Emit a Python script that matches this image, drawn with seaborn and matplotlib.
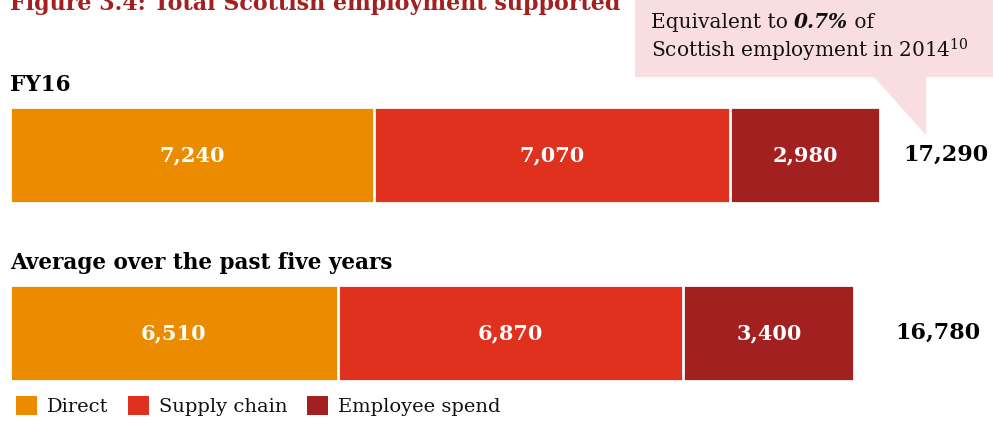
import matplotlib
matplotlib.use("Agg")
import matplotlib.pyplot as plt
from matplotlib.patches import Rectangle, Polygon, Patch
import seaborn as sns
import pandas as pd

# Employment supported, by channel
rows = ["FY16", "Average over the past five years"]
direct = [7240, 6510]
supply_chain = [7070, 6870]
employee_spend = [2980, 3400]
totals = [17290, 16780]
series_names = ["Direct", "Supply chain", "Employee spend"]
colors = ["#EB8C00", "#E0301E", "#A32020"]

title = "Figure 3.4: Total Scottish employment supported"
callout_pct = "0.7%"

sns.set_theme(style="white")
plt.rcParams["font.family"] = ["DejaVu Serif"]
plt.rcParams["mathtext.fontset"] = "dejavuserif"

W, H = 993, 422
fig = plt.figure(figsize=(W / 100, H / 100), dpi=100)
ax = fig.add_axes([0, 0, 1, 1])

df = pd.DataFrame({
    "row": rows,
    "direct": direct,
    "supply": supply_chain,
    "employee": employee_spend,
})
df["to_supply"] = df["direct"] + df["supply"]
df["to_employee"] = df["to_supply"] + df["employee"]

bar_w = 0.54
kw = dict(orient="h", width=bar_w, edgecolor="white", linewidth=2, saturation=1)
sns.barplot(data=df, x="to_employee", y="row", color=colors[2], ax=ax, **kw)
sns.barplot(data=df, x="to_supply", y="row", color=colors[1], ax=ax, **kw)
sns.barplot(data=df, x="direct", y="row", color=colors[0], ax=ax, **kw)

# pixel-aligned axes: x=0 at px 10, full scale ends at px 880
k = 870 / 17290
ax.set_xlim(-10 / k, (W - 10) / k)
row_px = [155, 333]
unit = row_px[1] - row_px[0]
ax.set_ylim((H - row_px[0]) / unit, -row_px[0] / unit)
ax.axis("off")

def fy(px):
    return 1 - px / H

# segment labels
for i in range(len(rows)):
    starts = [0, direct[i], direct[i] + supply_chain[i]]
    vals = [direct[i], supply_chain[i], employee_spend[i]]
    for s, v in zip(starts, vals):
        ax.text(s + v / 2, i, f"{v:,}", color="white", ha="center", va="center",
                fontsize=15, fontweight="bold")
    # row heading above the bar
    fig.text(10 / W, fy(row_px[i] - 70), rows[i],
             fontsize=15.5, fontweight="bold", color="black", ha="left", va="center")

# totals to the right of each bar
total_px = [946, 938]
for i, t in enumerate(totals):
    fig.text(total_px[i] / W, fy(row_px[i]), f"{t:,}",
             fontsize=16, fontweight="bold", color="black", ha="center", va="center")

# title (partly clipped by the top edge)
fig.text(10 / W, fy(10), title, fontsize=16, fontweight="bold",
         color="#A32020", ha="left", va="baseline")

# callout box with pointer
pink = "#F8DDE1"
fig.patches.append(Rectangle((635 / W, fy(77)), (W - 635) / W, 77 / H,
                             transform=fig.transFigure, facecolor=pink,
                             edgecolor="none", zorder=0))
fig.patches.append(Polygon([(873 / W, fy(76)), (926 / W, fy(76)), (926 / W, fy(135))],
                           closed=True, transform=fig.transFigure,
                           facecolor=pink, edgecolor="none", zorder=0))

fig.canvas.draw()
renderer = fig.canvas.get_renderer()
fs = 14.5
t1 = fig.text(651 / W, fy(28), "Equivalent to ", fontsize=fs, color="#111111",
              ha="left", va="baseline")
bb = t1.get_window_extent(renderer)
t2 = fig.text(bb.x1 / W, fy(28), callout_pct, fontsize=fs, color="#111111",
              fontweight="bold", fontstyle="italic", ha="left", va="baseline")
bb2 = t2.get_window_extent(renderer)
fig.text(bb2.x1 / W, fy(28), " of", fontsize=fs, color="#111111",
         ha="left", va="baseline")
fig.text(651 / W, fy(57), "Scottish employment in 2014$^{10}$", fontsize=fs,
         color="#111111", ha="left", va="baseline")

# legend
handles = [Patch(facecolor=c, edgecolor="none", label=n)
           for c, n in zip(colors, series_names)]
fig.legend(handles=handles, loc="lower left", bbox_to_anchor=(8 / W, -2 / H),
           ncol=3, frameon=False, fontsize=14, handlelength=1.1, handleheight=1.1,
           handletextpad=0.5, columnspacing=1.0, borderaxespad=0,
           labelcolor="#111111")

fig.savefig("out.png", dpi=100)
